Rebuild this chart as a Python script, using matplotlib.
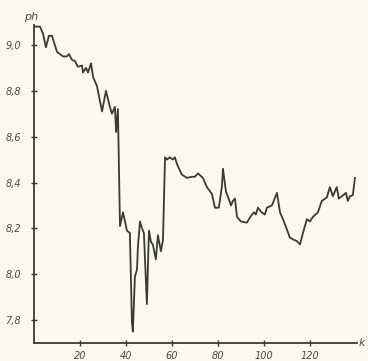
import matplotlib
matplotlib.use("Agg")
import matplotlib.pyplot as plt
from matplotlib.ticker import FuncFormatter

k = [0.4, 2.6, 3.9, 5.2, 6.5, 7.8, 10.0, 11.3, 12.6, 14.3, 15.2, 16.5, 17.8, 19.1, 20.9,
     21.3, 22.6, 23.5, 24.8, 25.7, 27.4, 29.6, 31.3, 33.0, 33.9, 35.2, 35.7, 36.5, 37.4,
     38.7, 39.6, 40.4, 41.7, 42.6, 43.0, 43.9, 44.8, 45.2, 46.1, 47.0, 47.8, 49.1, 50.0,
     50.9, 51.7, 53.0, 53.9, 55.2, 56.1, 57.0, 57.8, 59.1, 60.4, 61.3, 62.2, 64.3, 66.5,
     68.7, 70.0, 71.3, 73.5, 75.2, 77.4, 78.7, 80.4, 81.7, 82.2, 83.5, 84.3, 85.7, 86.5,
     87.4, 88.3, 90.0, 92.6, 93.5, 94.8, 95.7, 96.5, 97.4, 99.0, 100.4, 101.3, 103.5,
     105.7, 107.0, 108.3, 110.0, 111.3, 113.0, 114.3, 115.7, 117.0, 118.7, 120.0, 121.3,
     123.5, 125.2, 127.4, 128.7, 130.0, 131.7, 132.6, 133.9, 135.7, 136.5, 137.4, 138.7,
     139.6]
ph = [9.08, 9.08, 9.05, 8.99, 9.04, 9.04, 8.97, 8.96, 8.95, 8.95, 8.96, 8.935, 8.93, 8.905,
      8.91, 8.88, 8.90, 8.88, 8.92, 8.86, 8.82, 8.71, 8.80, 8.73, 8.70, 8.73, 8.62, 8.72,
      8.21, 8.27, 8.23, 8.19, 8.18, 7.79, 7.75, 7.99, 8.02, 8.12, 8.23, 8.20, 8.18, 7.87,
      8.19, 8.14, 8.13, 8.065, 8.17, 8.10, 8.15, 8.51, 8.50, 8.51, 8.50, 8.51, 8.48, 8.435,
      8.42, 8.425, 8.425, 8.44, 8.42, 8.38, 8.35, 8.29, 8.29, 8.38, 8.46, 8.36, 8.34, 8.30,
      8.32, 8.33, 8.25, 8.23, 8.225, 8.24, 8.26, 8.27, 8.26, 8.29, 8.27, 8.26, 8.29, 8.30,
      8.355, 8.27, 8.24, 8.195, 8.16, 8.15, 8.145, 8.13, 8.18, 8.24, 8.23, 8.25, 8.27, 8.32,
      8.335, 8.38, 8.34, 8.38, 8.33, 8.34, 8.355, 8.32, 8.34, 8.345, 8.42]

x_ticks = [20, 40, 60, 80, 100, 120]
y_ticks = [7.8, 8.0, 8.2, 8.4, 8.6, 8.8, 9.0]

bg = "#fbf8ef"
ink = "#3a3a36"

fig = plt.figure(figsize=(3.68, 3.61), dpi=100, facecolor=bg)
ax = fig.add_axes([34/368, 18/361, (357-34)/368, (343-25)/361])
ax.set_facecolor(bg)
ax.plot(k, ph, color=ink, lw=1.3)
ax.set_xlim(0, 140.5)
ax.set_ylim(7.70, 9.087)
for s in ["top", "right"]:
    ax.spines[s].set_visible(False)
for s in ["left", "bottom"]:
    ax.spines[s].set_color(ink)
    ax.spines[s].set_linewidth(1.3)
ax.set_xticks(x_ticks)
ax.set_yticks(y_ticks)
ax.yaxis.set_major_formatter(FuncFormatter(lambda v, p: f"{v:.1f}".replace(".", ",")))
ax.tick_params(direction="inout", length=5, width=1, color=ink, labelcolor="#4a4a44",
               labelsize=7)
ax.tick_params(axis="y", pad=7)
ax.tick_params(axis="x", pad=3)
for lab in ax.get_xticklabels() + ax.get_yticklabels():
    lab.set_fontstyle("italic")
ax.text(-1.3, 9.12, "ph", fontsize=8, style="italic", color="#4a4a44",
        ha="center", va="center", clip_on=False)
ax.text(141, 7.70, "k", fontsize=8, style="italic", color="#4a4a44",
        ha="left", va="center", clip_on=False)
fig.savefig("out.png", dpi=100, facecolor=bg)
